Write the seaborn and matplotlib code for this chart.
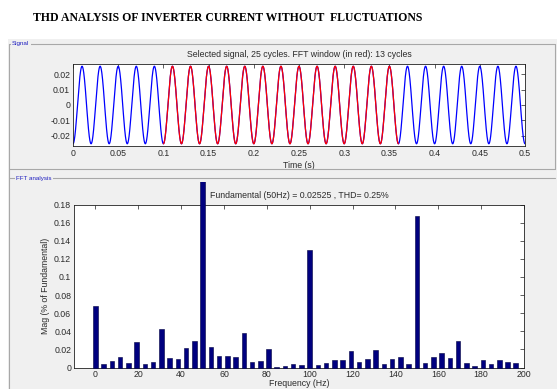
import numpy as np
import pandas as pd
import matplotlib
matplotlib.use("Agg")
import matplotlib.pyplot as plt
from matplotlib.patches import Rectangle
from matplotlib.lines import Line2D
import seaborn as sns

# ---- data -------------------------------------------------------------
fundamental_hz = 50.0
fundamental_mag = 0.02525
n_cycles = 25
window_start = 0.10          # FFT window start (s)
window_cycles = 13
thd_percent = 0.25

# harmonic spectrum, bins spaced by 50/13 Hz (13-cycle window)
spectrum_bins = list(range(0, 52))
spectrum_mag = [
    0.0674, 0.0043, 0.0076, 0.0112, 0.0051, 0.0286, 0.0043, 0.0058,
    0.0420, 0.0101, 0.0090, 0.0210, 0.0293, 100.0, 0.0221, 0.0127,
    0.0127, 0.0112, 0.0380, 0.0065, 0.0072, 0.0203, 0.0010, 0.0022,
    0.0036, 0.0025, 0.1297, 0.0029, 0.0047, 0.0083, 0.0083, 0.0181,
    0.0062, 0.0090, 0.0196, 0.0043, 0.0098, 0.0112, 0.0043, 0.1677,
    0.0051, 0.0116, 0.0163, 0.0105, 0.0293, 0.0051, 0.0022, 0.0083,
    0.0040, 0.0083, 0.0058, 0.0051,
]
freq_ticks = [0, 20, 40, 60, 80, 100, 120, 140, 160, 180, 200]
mag_ticks = [0, 0.02, 0.04, 0.06, 0.08, 0.1, 0.12, 0.14, 0.16, 0.18]
mag_tick_labels = ["0", "0.02", "0.04", "0.06", "0.08", "0.1", "0.12", "0.14", "0.16", "0.18"]
time_ticks = [0, 0.05, 0.1, 0.15, 0.2, 0.25, 0.3, 0.35, 0.4, 0.45, 0.5]
time_tick_labels = ["0", "0.05", "0.1", "0.15", "0.2", "0.25", "0.3", "0.35", "0.4", "0.45", "0.5"]
cur_ticks = [-0.02, -0.01, 0, 0.01, 0.02]
cur_tick_labels = ["-0.02", "-0.01", "0", "0.01", "0.02"]

# ---- derived signal ---------------------------------------------------
period = 1.0 / fundamental_hz
t = np.linspace(0, n_cycles * period, 5001)
current = -fundamental_mag * np.cos(2 * np.pi * fundamental_hz * t)
sig = pd.DataFrame({"t": t, "i": current})
window_end = window_start + window_cycles * period
win = sig[(sig.t >= window_start - 1e-9) & (sig.t <= window_end + 1e-9)]

bin_hz = fundamental_hz / window_cycles
spec = pd.DataFrame({"f": np.array(spectrum_bins) * bin_hz, "mag": spectrum_mag})

# ---- figure -----------------------------------------------------------
sns.set_theme(style="white")
plt.rcParams["font.family"] = ["Liberation Sans", "DejaVu Sans"]

W, H = 557, 389
fig = plt.figure(figsize=(W / 100, H / 100), dpi=100)
fig.patch.set_facecolor("white")

def fx(px):
    return px / W

def fy(py):
    return 1 - py / H

panel_bg = "#f0f0f0"
frame_col = "#a8a8a8"
fig.add_artist(Rectangle((fx(8), 0), 1 - fx(8), fy(39), transform=fig.transFigure,
                         facecolor=panel_bg, edgecolor="none", zorder=0))
# left border of the panels
fig.add_artist(Line2D([fx(8.5), fx(8.5)], [0, fy(44)], transform=fig.transFigure,
                      color=frame_col, lw=0.8))
# panel frame lines
for ypix in (44, 169, 178):
    fig.add_artist(Line2D([fx(8.5), fx(555)], [fy(ypix), fy(ypix)],
                          transform=fig.transFigure, color=frame_col, lw=0.8))
fig.add_artist(Line2D([fx(555), fx(555)], [fy(169), fy(44)], transform=fig.transFigure,
                      color=frame_col, lw=0.8))
label_box = dict(facecolor=panel_bg, edgecolor="none", pad=1.0)
fig.text(fx(12), fy(44), "Signal", fontsize=4.5, color="#2020c0", va="center",
         ha="left", bbox=label_box)
fig.text(fx(16), fy(178), "FFT analysis", fontsize=4.5, color="#2020c0", va="center",
         ha="left", bbox=label_box)

fig.text(fx(33), fy(18), "THD ANALYSIS OF INVERTER CURRENT WITHOUT  FLUCTUATIONS",
         fontsize=8.5, fontweight="bold", family=["Liberation Serif", "DejaVu Serif"],
         ha="left", va="center", color="black")

tick_fs = 6.3
text_col = "#2b2b2b"

def style_axes(ax):
    ax.set_facecolor("white")
    for s in ax.spines.values():
        s.set_visible(True)
        s.set_color("#202020")
        s.set_linewidth(0.6)
    ax.tick_params(direction="in", length=3, width=0.5, top=True, right=True,
                   labelsize=tick_fs, colors="#202020", labelcolor=text_col, pad=2)

# signal axes
ax1 = fig.add_axes([fx(73), fy(146), fx(525) - fx(73), fy(64) - fy(146)])
sns.lineplot(data=sig, x="t", y="i", ax=ax1, color="#0000ff", lw=0.9,
             estimator=None, sort=False)
sns.lineplot(data=win, x="t", y="i", ax=ax1, color="#ff0000", lw=0.9,
             estimator=None, sort=False)
ax1.set_xlim(0, n_cycles * period)
ax1.set_ylim(-0.0267, 0.0267)
ax1.set_xticks(time_ticks, time_tick_labels)
ax1.set_yticks(cur_ticks, cur_tick_labels)
style_axes(ax1)
ax1.set_xlabel("Time (s)", fontsize=tick_fs, color=text_col, labelpad=2)
ax1.set_ylabel("")
ax1.set_title("Selected signal, 25 cycles. FFT window (in red): 13 cycles",
              fontsize=tick_fs, color=text_col, pad=5)

# spectrum axes
ax2_top, ax2_bot = 204.5, 367.5
ax2 = fig.add_axes([fx(74), fy(ax2_bot), fx(524) - fx(74), fy(ax2_top) - fy(ax2_bot)])
sns.barplot(data=spec, x="f", y="mag", ax=ax2, native_scale=True, width=0.55,
            color="#00007f", saturation=1, edgecolor="#000040", linewidth=0.4)
ax2.set_xlim(-10, 200)
ax2.set_ylim(0, 0.18)
ax2.set_xticks(freq_ticks, [str(v) for v in freq_ticks])
ax2.set_yticks(mag_ticks, mag_tick_labels)
style_axes(ax2)
ax2.tick_params(axis="x", pad=1.5)
ax2.set_xlabel("Frequency (Hz)", fontsize=tick_fs, color=text_col)
ax2.xaxis.set_label_coords(0.5, -(379.0 - ax2_bot) / (ax2_bot - ax2_top))
ax2.set_ylabel("Mag (% of Fundamental)", fontsize=tick_fs, color=text_col, labelpad=3)
ax2.set_title(f"Fundamental (50Hz) = {fundamental_mag} , THD= {thd_percent}%",
              fontsize=tick_fs, color=text_col, pad=5)

# bars may rise above the axes but stay inside the FFT panel
panel_clip = Rectangle((0, 0), 1, fy(181.5), transform=fig.transFigure,
                       facecolor="none", edgecolor="none")
fig.add_artist(panel_clip)
panel_clip.set_visible(False)
for bar in ax2.patches:
    bar.set_clip_box(None)
    bar.set_clip_path(panel_clip)
    bar.set_zorder(3)

fig.savefig("out.png", dpi=100)
